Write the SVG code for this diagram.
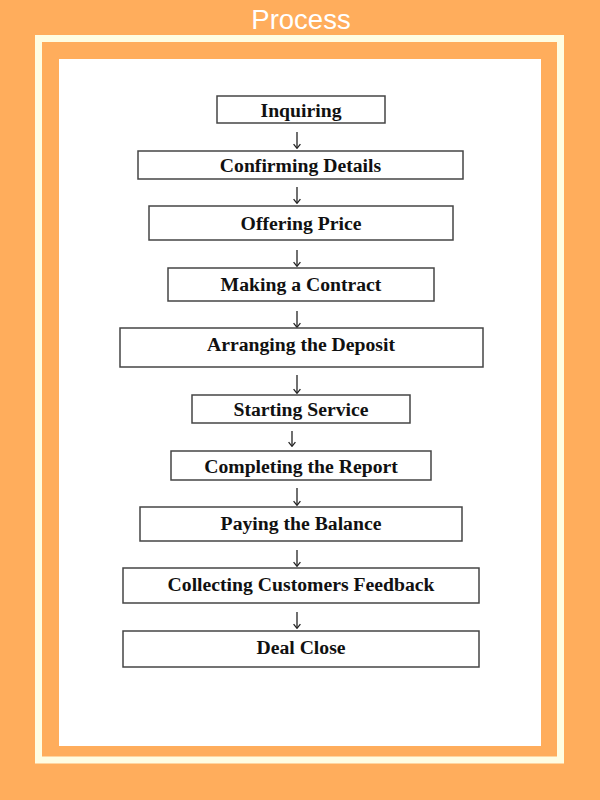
<svg xmlns="http://www.w3.org/2000/svg" width="600" height="800" viewBox="0 0 600 800">
  <defs>
    <style>
      .bg { fill: #FFAD5C; }
      .frame { fill: none; stroke: #FFFDE2; stroke-width: 7; }
      .panel { fill: #FFFFFF; }
      .title { font-family: "Liberation Sans", Arial, sans-serif; font-size: 27.5px; fill: #FFFFFF; text-anchor: middle; }
      .box { fill: #FFFFFF; stroke: #454545; stroke-width: 1.5; }
      .label { font-family: "Liberation Serif", "Times New Roman", serif; font-weight: bold; font-size: 19.7px; fill: #111111; text-anchor: middle; }
      .conn { stroke: #222222; stroke-width: 1.3; fill: none; marker-end: url(#arrow); }
    </style>
    <marker id="arrow" markerWidth="10" markerHeight="10" refX="9" refY="5" orient="auto" markerUnits="userSpaceOnUse" viewBox="0 0 10 10">
      <path d="M5.2,1.6 L9.3,5 L5.2,8.4" fill="none" stroke="#222222" stroke-width="1.3"/>
    </marker>
  </defs>

  <rect class="bg" x="0" y="0" width="600" height="800"/>
  <rect class="frame" x="38.5" y="38.5" width="522" height="721.5"/>
  <rect class="panel" x="59" y="59" width="482" height="687"/>
  <text class="title" x="301" y="29">Process</text>

  <g id="connectors">
    <line class="conn" x1="297" y1="132" x2="297" y2="148"/>
    <line class="conn" x1="297" y1="187" x2="297" y2="203"/>
    <line class="conn" x1="297" y1="250" x2="297" y2="266"/>
    <line class="conn" x1="297" y1="311" x2="297" y2="327"/>
    <line class="conn" x1="297" y1="375" x2="297" y2="393"/>
    <line class="conn" x1="292" y1="431" x2="292" y2="446"/>
    <line class="conn" x1="297" y1="488" x2="297" y2="505"/>
    <line class="conn" x1="297" y1="550" x2="297" y2="566"/>
    <line class="conn" x1="297" y1="612" x2="297" y2="628"/>
  </g>

  <g id="node-inquiring">
    <rect class="box" x="217" y="96" width="168" height="27"/>
    <text class="label" x="301" y="116.5">Inquiring</text>
  </g>
  <g id="node-confirming">
    <rect class="box" x="138" y="151" width="325" height="28"/>
    <text class="label" x="300.5" y="172">Confirming Details</text>
  </g>
  <g id="node-offering">
    <rect class="box" x="149" y="206" width="304" height="34"/>
    <text class="label" x="301" y="230">Offering Price</text>
  </g>
  <g id="node-contract">
    <rect class="box" x="168" y="268" width="266" height="33"/>
    <text class="label" x="301" y="291">Making a Contract</text>
  </g>
  <g id="node-deposit">
    <rect class="box" x="120" y="328" width="363" height="39"/>
    <text class="label" x="301" y="351">Arranging the Deposit</text>
  </g>
  <g id="node-starting">
    <rect class="box" x="192" y="395" width="218" height="28"/>
    <text class="label" x="301" y="416">Starting Service</text>
  </g>
  <g id="node-report">
    <rect class="box" x="171" y="451" width="260" height="29"/>
    <text class="label" x="301" y="472.5">Completing the Report</text>
  </g>
  <g id="node-balance">
    <rect class="box" x="140" y="507" width="322" height="34"/>
    <text class="label" x="301" y="530">Paying the Balance</text>
  </g>
  <g id="node-feedback">
    <rect class="box" x="123" y="568" width="356" height="35"/>
    <text class="label" x="301" y="591">Collecting Customers Feedback</text>
  </g>
  <g id="node-close">
    <rect class="box" x="123" y="631" width="356" height="36"/>
    <text class="label" x="301" y="654">Deal Close</text>
  </g>
</svg>
